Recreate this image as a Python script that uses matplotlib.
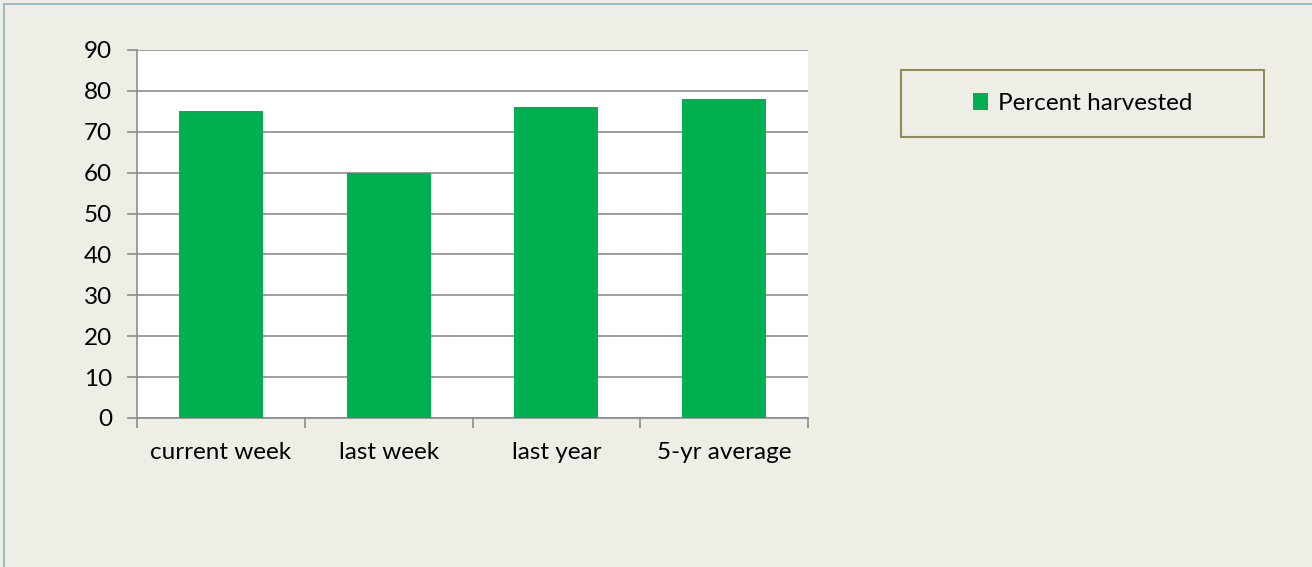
import matplotlib.pyplot as plt
from matplotlib.lines import Line2D
from matplotlib.patches import Patch, Rectangle

# === Data ===
categories = ["current week", "last week", "last year", "5-yr average"]
percent_harvested = [75, 60, 76, 78]

bg_color = "#EFEEE6"
bar_color = "#00B050"
grid_color = "#8C8C8C"
W, H = 1312, 567

plt.rcParams['font.family'] = ['Lato', 'DejaVu Sans']

fig = plt.figure(figsize=(W / 100, H / 100), dpi=100)
fig.patch.set_facecolor(bg_color)

ax = fig.add_axes([137 / W, 1 - 418 / H, (808 - 137) / W, (418 - 50) / H])
ax.set_facecolor("white")

x = range(len(categories))
ax.bar(x, percent_harvested, width=0.5, color=bar_color, zorder=3, label="Percent harvested")

# --- Axes styling ---
ax.set_xlim(-0.5, len(categories) - 0.5)
ax.set_ylim(0, 90)
ax.set_yticks(range(0, 91, 10))
ax.set_xticks([i - 0.5 for i in range(len(categories) + 1)])
ax.set_xticklabels([])
ax.set_xticks(list(x), minor=True)
ax.set_xticklabels(categories, minor=True)
ax.tick_params(axis='x', which='major', length=7, width=1.2, color=grid_color, direction='out')
ax.tick_params(axis='x', which='minor', length=0, pad=17, labelsize=17.5)
ax.tick_params(axis='y', length=7, width=1.2, color=grid_color, pad=11, labelsize=17.5)

ax.yaxis.grid(True, color=grid_color, linewidth=1.2, zorder=0)
ax.set_axisbelow(True)
for side in ['top', 'right']:
    ax.spines[side].set_visible(False)
for side in ['left', 'bottom']:
    ax.spines[side].set_color(grid_color)
    ax.spines[side].set_linewidth(1.2)

# --- Legend box ---
fig.add_artist(Rectangle((901 / W, 1 - 137 / H), (1264 - 901) / W, (137 - 70) / H,
                         transform=fig.transFigure, facecolor=bg_color,
                         edgecolor="#948A54", linewidth=1.5))
handles = [Patch(facecolor=bar_color, label="Percent harvested")]
leg = fig.legend(handles=handles, loc='center',
                 bbox_to_anchor=((901 + 1264) / 2 / W, 1 - (70 + 137) / 2 / H),
                 frameon=False, fontsize=17.5,
                 handlelength=0.65, handleheight=0.65, handletextpad=0.4)

# --- Outer border (top and left) ---
fig.add_artist(Line2D([4 / W, 1], [1 - 4 / H, 1 - 4 / H], color="#8DB3C3", linewidth=1.2,
                      transform=fig.transFigure))
fig.add_artist(Line2D([4 / W, 4 / W], [0, 1 - 4 / H], color="#8DB3C3", linewidth=1.2,
                      transform=fig.transFigure))

fig.savefig("out.png", dpi=100, facecolor=fig.get_facecolor())
